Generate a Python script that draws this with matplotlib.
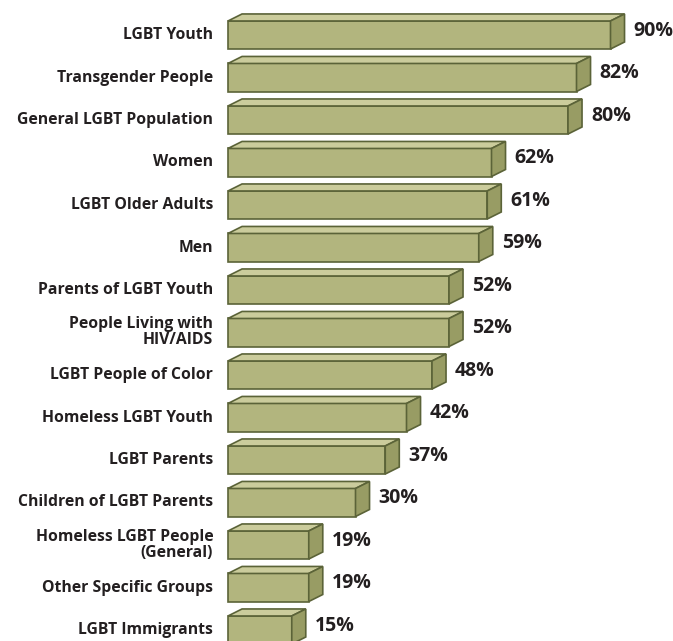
import matplotlib.pyplot as plt
from matplotlib.patches import Polygon

groups = ["LGBT Youth", "Transgender People", "General LGBT Population", "Women",
          "LGBT Older Adults", "Men", "Parents of LGBT Youth",
          "People Living with\nHIV/AIDS", "LGBT People of Color", "Homeless LGBT Youth",
          "LGBT Parents", "Children of LGBT Parents",
          "Homeless LGBT People\n(General)", "Other Specific Groups", "LGBT Immigrants"]
values = [90, 82, 80, 62, 61, 59, 52, 52, 48, 42, 37, 30, 19, 19, 15]

front_c = "#b2b57e"
top_c = "#cbcc9c"
side_c = "#989c64"
edge_c = "#5b6338"
text_c = "#231f20"

fig = plt.figure(figsize=(6.73, 6.41), dpi=100)
ax = fig.add_axes([228 / 673, 0, 445 / 673, 1])
ax.set_xlim(0, 445 / 4.25)
ax.set_ylim((641 - 35) / 42.5, -35 / 42.5)
ax.axis("off")

h = 0.66   # front face height
dx = 3.3   # depth offset in x
dy = 0.165  # depth offset in y

for i, (g, v) in enumerate(zip(groups, values)):
    y0 = i - h / 2
    y1 = i + h / 2
    front = [(0, y0), (v, y0), (v, y1), (0, y1)]
    top = [(0, y0), (dx, y0 - dy), (v + dx, y0 - dy), (v, y0)]
    side = [(v, y0), (v + dx, y0 - dy), (v + dx, y1 - dy), (v, y1)]
    for pts, c in [(front, front_c), (top, top_c), (side, side_c)]:
        ax.add_patch(Polygon(pts, closed=True, facecolor=c, edgecolor=edge_c,
                             linewidth=1.2, joinstyle="miter", clip_on=False))
    ax.text(-3.5, i, g, ha="right", va="center", fontsize=11.3,
            fontweight="bold", color=text_c, family="Open Sans",
            linespacing=1.0, clip_on=False)
    ax.text(v + dx + 2.1, i - 0.1, f"{v}%", ha="left", va="center",
            fontsize=14, fontweight="bold", color=text_c, family="Open Sans",
            clip_on=False)

fig.savefig("out.png", dpi=100)
